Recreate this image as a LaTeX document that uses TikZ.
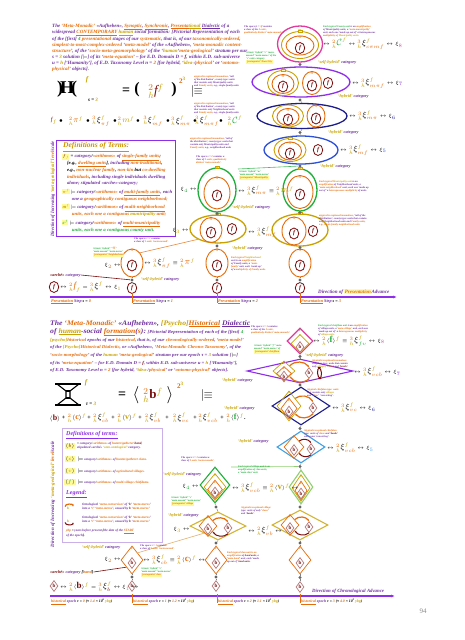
\documentclass[tikz,border=0pt]{standalone}
\usepackage{fontspec}
\setmainfont{Liberation Serif}
\usepackage{graphicx}
\usetikzlibrary{shapes.geometric,arrows.meta}
\setlength{\fboxsep}{0.6pt}
\definecolor{tpur}{HTML}{7030A0}
\definecolor{tvio}{HTML}{8E2EE8}
\definecolor{tor}{HTML}{E46C0A}
\definecolor{tgo}{HTML}{C9A200}
\definecolor{tgr}{HTML}{1FAE3A}
\definecolor{tre}{HTML}{7A0C0C}
\definecolor{tnv}{HTML}{1C1C8C}
\definecolor{tbl}{HTML}{2B4FD6}
\definecolor{tpk}{HTML}{E23BA0}
\definecolor{tlb}{HTML}{3FA0E6}
\definecolor{tlg}{HTML}{8FD06F}
\definecolor{ttan}{HTML}{E3B070}
\definecolor{tdef}{HTML}{B58CE0}
\newcommand{\cP}[1]{\textcolor{tpur}{#1}}
\newcommand{\cO}[1]{\textcolor{tor}{#1}}
\newcommand{\cY}[1]{\textcolor{tgo}{#1}}
\newcommand{\cG}[1]{\textcolor{tgr}{#1}}
\newcommand{\cR}[1]{\textcolor{tre}{#1}}
\newcommand{\cK}[1]{\textcolor{tpk}{#1}}
\newcommand{\fsz}[2]{\fontsize{#1}{#2}\selectfont}
\newcommand{\Pre}[1]{{}^{\textcolor{tor}{#1}}_{\textcolor{tgo}{h}}}
\newcommand{\Fs}{^{\textcolor{tgo}{f}}}
\newcommand{\bsym}[2]{\mbox{\fsz{#1}{#1}$#2$}}
\newcommand{\fel}[3]{\node[el,draw=tre,line width=0.8pt,minimum width=9.5pt,minimum height=11pt,flet] (#1) at (#2,#3) {f};}
\newcommand{\pel}[5]{\node[el,draw=tor,minimum width=#4,minimum height=#5] (#1) at (#2,#3) {};\node[lab,text=tor,anchor=north] (#1p) at ([yshift=-0.5pt]#1.north) {$\pi$};\fel{#1f}{#2}{#3+2.5}}
\newcommand{\mlab}[1]{\node[lab,text=tgo,fill=yellow!35,draw=tgo,line width=0.3pt,inner sep=0.4pt] (#1m) at (#1.north) {m};}
\newcommand{\bdm}[3]{\node[dm,draw=tre!55,minimum width=8pt,minimum height=11pt,font=\fsz{5}{5}\bfseries,text=tre] (#1) at (#2,#3) {b};}
\newcommand{\cdm}[5]{\node[dm,draw=tor,minimum width=#4,minimum height=#5] (#1) at (#2,#3) {};\node[lab,text=tor,anchor=north] (#1c) at ([yshift=-1.2pt]#1.north) {c};\bdm{#1b}{#2}{#3+3}}
\newcommand{\vdm}[5]{\node[dm,draw=tgo,minimum width=#4,minimum height=#5] (#1) at (#2,#3) {};\node[lab,text=tgo,anchor=north] (#1v) at ([yshift=-1pt]#1.north) {v};\cdm{#1o}{#2}{#3+2.5}{0.68*#4}{0.7*#5}}
\begin{document}
\begin{tikzpicture}[x=1pt,y=-1pt,
 el/.style={ellipse,draw,inner sep=0pt,line width=0.9pt},
 oel/.style={ellipse,draw,inner sep=0pt,line width=1.3pt},
 dm/.style={diamond,draw,inner sep=0pt,line width=0.7pt},
 odm/.style={diamond,draw,inner sep=0pt,line width=1.1pt},
 dotn/.style={circle,fill=black!60,inner sep=0pt,minimum size=3.4pt},
 conn/.style={draw=black!50,line width=0.45pt},
 tx/.style={inner sep=0pt,align=left,font=\fsz{2.6}{3.2}\bfseries\itshape},
 catl/.style={inner sep=0pt,font=\fsz{4.3}{5}\bfseries\itshape},
 fml/.style={inner sep=0pt,font=\fsz{5}{6}\bfseries},
 flet/.style={font=\fsz{6}{6}\bfseries\itshape,text=tre},
 lab/.style={inner sep=0.3pt,font=\fsz{3.8}{4}\bfseries},
 axl/.style={inner sep=0pt,font=\fsz{4.2}{5}\bfseries\itshape,anchor=north west},
 arcO/.style={tor,line width=1.2pt,-{Stealth[length=2.2pt]}},
 arcR/.style={tre,line width=1pt,-{Stealth[length=2pt]}}]
\path[use as bounding box,fill=white] (0,0) rectangle (465,640);

%================ TOP PANEL =================
\node[anchor=north west,inner sep=0pt] (ttl1) at (52,23) {\resizebox*{195pt}{49pt}{\fsz{8}{10}\bfseries\itshape\begin{tabular}{@{}l@{}}
\cP{The} \cO{`Meta-Monadic'} \cP{«Aufheben»,} \cO{\underline{Synoptic}}\cP{,} \cO{\underline{Synchronic}}\cP{,} \cO{\underline{Presenta}}\cY{\underline{tional}} \cP{\underline{Dialectic} of a}\\
\cP{widespread} \cO{\underline{CONTEMPORARY}} \cY{\underline{human}} \cP{social formation:} \cP{[Pictorial Representation of each}\\
\cP{of the [first]} \cG{4} \cO{presentational} \cP{stages of our} \cO{systematic}\cP{, that is, of our} \cO{taxonomically-ordered}\cP{,}\\
\cO{simplest-to-most-complex-ordered} \cP{`}\cO{meta-model}\cP{' of the «Aufheben», `}\cO{meta-monadic content-}\\
\cO{structure}\cP{', of the `}\cO{socio-meta-geomorphology}\cP{' of the `}\cY{human}\cP{ `}\cO{meta-geological}\cP{' stratum per our}\\
\cP{s =} \cY{3} \cP{solution [}$\models$\cP{] of its `}\cO{meta-equation}\cP{' -- for E.D.} \cP{Domain D =} \cR{f}\cP{, within E.D. sub-universe}\\
\cP{u =} \cY{h} \cP{[`Humanity'], of E.D. Taxonomy Level n =} \cO{2} \cP{[for hybrid, `}\cY{idea-}\cP{/}\cO{physical}\cP{' or `}\cO{ontomo-}\\
\cO{physical}\cP{' objects].}
\end{tabular}}};

% equation
\node[inner sep=0pt,font=\fsz{18}{18}\bfseries] (Hsym) at (67,89) {)\kern-3pt H\kern-3pt(};
\node[inner sep=0pt,font=\fsz{7}{7}\bfseries\itshape,text=tgo] (Hf) at (87,80) {f};
\node[inner sep=0pt,font=\fsz{5}{5}\bfseries\itshape] (Hsub) at (93,100) {s = \cY{3}};
\node[inner sep=0pt,font=\fsz{14}{14}\bfseries] (Heq) at (126,91) {=};
\node[inner sep=0pt,font=\fsz{16}{16}\bfseries] (Hlp) at (137,90) {(};
\node[inner sep=0pt,font=\fsz{13}{13}] (Hin) at (156,91) {$\Pre{2}\textcolor{tre}{\mathit{f}}\Fs$};
\node[inner sep=0pt,font=\fsz{16}{16}\bfseries] (Hrp) at (174,90) {)};
\node[inner sep=0pt,font=\fsz{7}{7}\bfseries] (Hexp) at (182,80) {\cO{2}\raisebox{3pt}{\fsz{5}{5}\cY{3}}};
\node[inner sep=0pt,font=\fsz{12}{12}] (Hent) at (197,91) {$|\!\!\equiv$};

% row of terms
\begin{scope}[every node/.style={inner sep=0pt,font=\fsz{6}{6}\bfseries}]
\node (r0) at (54,121) {$\textcolor{tre}{\mathit f}_{\textcolor{tgo}{f}}$};
\node (rb1) at (61,121) {$\bullet$};
\node (r1) at (76,121) {$\Pre{2}\bsym{8}{\textcolor{tor}{\pi}}\Fs$};
\node (rb2) at (88,121) {$\bullet$};
\node (r2) at (101,121) {$\Pre{3}\bsym{8}{\xi}\Fs_{\textcolor{tor}{\pi f}}$};
\node (rb3) at (115,121) {$\bullet$};
\node (r3) at (126,121) {$\Pre{2}\bsym{8}{\textcolor{tgo}{m}}\Fs$};
\node (rb4) at (138,121) {$\bullet$};
\node (r4) at (153,121) {$\Pre{3}\bsym{8}{\xi}\Fs_{\textcolor{tor}{mf}}$};
\node (rb5) at (168,121) {$\bullet$};
\node (r5) at (181,121) {$\Pre{3}\bsym{8}{\xi}\Fs_{\textcolor{tor}{m\pi}}$};
\node (rb6) at (195,121) {$\bullet$};
\node (r6) at (207,121) {$\Pre{3}\bsym{8}{\xi}\Fs_{\textcolor{tor}{m\pi f}}$};
\node (rb7) at (221,121) {$\bullet$};
\node (r7) at (235,121) {$\Pre{2}\bsym{9}{\textcolor{tgr}{\mathcal{C}}}\Fs$};
\end{scope}

% definitions box
\node[draw=tvio,line width=0.8pt,minimum width=119pt,minimum height=96pt,anchor=north west,inner sep=0pt] (defA) at (56,140) {};
\node[anchor=west,inner sep=0pt,font=\fsz{7.5}{8}\bfseries\itshape,text=tgo!75!tor] (defAt) at (63,147) {\underline{Definitions of Terms:}};
\node[anchor=north west,inner sep=0pt] (defAi) at (62,153) {\resizebox*{110pt}{80pt}{\fsz{7}{10}\bfseries\itshape\begin{tabular}{@{}l@{}}
\colorbox{yellow!40}{$\textcolor{tre}{f}_{\textcolor{tgo}{f}}$} = \cP{category}/\cO{«arithmos»} \cP{of} \cO{\underline{single-family units}};\\
\quad [e.g., \cO{\underline{dwelling units}}], \cP{including} \cO{non-traditional},\\
\quad e.g., \cO{non-nuclear family}, \cO{non-kin} but \cO{co-dwelling}\\
\quad \cO{individuals}, \cP{including single individuals dwelling}\\
\quad \cP{alone; stipulated «arche»-category;}\\[3pt]
\colorbox{yellow!40}{\cO{$\pi$}\cY{$^f$}} $\models$ \cP{category}/\cO{«arithmos»} \cP{of} \cO{\underline{multi-family units}}\cP{, each}\\
\qquad \cP{one a} \cO{geographically contiguous neighborhood;}\\[3pt]
\colorbox{yellow!40}{\cY{m$^f$}} $\models$ \cP{category}/\cO{«arithmos»} \cP{of} \cO{\underline{multi-neighborhood}}\\
\qquad \cO{units, each one a contiguous} \cY{municipality} \cO{unit;}\\[3pt]
\colorbox{yellow!40}{\cG{c$^f$}} $\models$ \cP{category}/\cO{«arithmos»} \cP{of} \cO{\underline{multi-municipality}}\\
\qquad \cG{units, each one a contiguous county unit.}
\end{tabular}}};

% vertical text
\node[rotate=90,inner sep=0pt] (vt1) at (53,189) {\resizebox*{95pt}{4.5pt}{\bfseries\itshape \cP{Direction of Increasing} \cY{`meta-geological'} \cO{level}\cP{/scale}}};

% ---- column s=3 stack
\node[oel,draw=tpk,minimum width=45pt,minimum height=36pt] (E1) at (300,44) {};
\node[el,draw=tgo,minimum width=37pt,minimum height=27pt] (E1g) at (300,45) {};
\pel{E1o}{300}{45.5}{28pt}{19pt}
\mlab{E1g}

\node[oel,draw=tvio,minimum width=98pt,minimum height=30pt] (E2) at (301,82) {};
\node[el,draw=tgo,minimum width=31pt,minimum height=25pt] (E2g) at (283,83) {};
\pel{E2o}{283}{84}{22pt}{19pt}
\mlab{E2g}
\pel{E2p}{312}{83}{19pt}{23pt}
\fel{E2f}{328}{83}

\node[oel,draw=tnv,minimum width=90pt,minimum height=25pt] (E3) at (302,116) {};
\node[el,draw=tgo,minimum width=31pt,minimum height=22pt] (E3g) at (288,116) {};
\pel{E3o}{288}{117}{22pt}{17pt}
\pel{E3p}{316}{116}{18pt}{22pt}

\node[oel,draw=tbl,minimum width=74pt,minimum height=28pt] (E4) at (301,150) {};
\node[el,draw=tgo,minimum width=32pt,minimum height=23pt] (E4g) at (290,150) {};
\pel{E4o}{290}{151}{23pt}{18pt}
\mlab{E4g}
\fel{E4f}{318}{150}

\node[oel,draw=tgr,minimum width=34pt,minimum height=42pt] (E5) at (300,190) {};
\pel{E5o}{300}{192}{26pt}{33pt}
\mlab{E5}

\node[oel,draw=tgo,minimum width=56pt,minimum height=32pt] (E6) at (300,230) {};
\pel{E6o}{294}{231}{24pt}{28pt}
\mlab{E6}
\fel{E6f}{313}{231}

\pel{E7}{300}{263}{22pt}{28pt}
\fel{E8}{300}{288}

\node[dotn] (tA) at (300,64.5) {};
\node[dotn] (tB) at (300,100) {};
\node[dotn] (tC) at (300,132.5) {};
\node[dotn] (tD) at (300,166) {};
\node[dotn] (tE) at (300,212.5) {};
\node[dotn] (tF) at (300,247.5) {};
\node[dotn] (tG) at (300,280) {};
\draw[conn] (E1.south) -- (tA) -- (E2.north);
\draw[conn] (E2.south) -- (tB) -- (E3.north);
\draw[conn] (E3.south) -- (tC) -- (E4.north);
\draw[conn] (E4.south) -- (tD) -- (E5.north);
\draw[conn] (E5.south) -- (tE) -- (E6.north);
\draw[conn] (E6.south) -- (tF) -- (E7.north);
\draw[conn] (E7.south) -- (tG) -- (E8.north);

% ---- column s=2
\node[oel,draw=tgr,minimum width=38pt,minimum height=44pt] (G2) at (217,190) {};
\pel{G2o}{217}{193}{26pt}{32pt}
\mlab{G2}
\node[oel,draw=tgo,minimum width=56pt,minimum height=28pt] (Y2) at (218,229) {};
\pel{Y2o}{211}{230}{22pt}{25pt}
\mlab{Y2}
\fel{Y2f}{232}{229}
\pel{O2}{217}{263}{22pt}{28pt}
\fel{F2}{217}{288}
\node[dotn] (sA) at (217,213.5) {};
\node[dotn] (sB) at (217,246) {};
\node[dotn] (sC) at (217,280) {};
\draw[conn] (G2.south) -- (sA) -- (Y2.north);
\draw[conn] (Y2.south) -- (sB) -- (O2.north);
\draw[conn] (O2.south) -- (sC) -- (F2.north);

% ---- column s=1
\pel{O1}{132}{263}{22pt}{28pt}
\fel{F1}{132}{288}
\node[dotn] (uA) at (132,280) {};
\draw[conn] (O1.south) -- (uA) -- (F1.north);

% ---- column s=0
\fel{F0}{54}{287}
\node[fml,anchor=west] (F0r) at (60,287) {$\leftrightarrow\Pre{2}\bsym{9}{\textcolor{tor}{\mathit f}}_{\textcolor{tgo}{f}}=\Pre{3}\bsym{8}{\xi}\Fs\leftrightarrow\xi_{\textcolor{tgo}{1}}$};
\node[catl,anchor=west] (arch1) at (50,275) {\cR{«arché»} \cP{category}};

% cross lines
\coordinate (gl1) at (238,169);
\draw[tgr!80,line width=0.6pt] (gl1) -- (tD);
\draw[tor!80,line width=0.6pt] (O1.north east) -- (Y2.south west);
\draw[tre,line width=0.6pt] (arch1.east) -- (uA);

% ---- formulas and labels, top
\node[fml,anchor=west] (E1r) at (323,44) {$\leftrightarrow\Pre{2}\bsym{9}{\textcolor{tgr}{\mathcal{C}}}\Fs\leftrightarrow\Pre{3}\bsym{8}{\xi}\Fs_{\textcolor{tor}{c\pi mf}}\leftrightarrow\xi_{\textcolor{tpk}{8}}$};
\node[fml,anchor=west] (E2r) at (352,83) {$\leftrightarrow\Pre{3}\bsym{8}{\xi}\Fs_{\textcolor{tor}{m\pi f}}\leftrightarrow\xi_{\textcolor{tvio}{7}}$};
\node[fml,anchor=west] (E3r) at (349,116) {$\leftrightarrow\Pre{3}\bsym{8}{\xi}\Fs_{\textcolor{tor}{m\pi}}\leftrightarrow\xi_{\textcolor{tnv}{6}}$};
\node[fml,anchor=west] (E4r) at (340,150) {$\leftrightarrow\Pre{3}\bsym{8}{\xi}\Fs_{\textcolor{tor}{mf}}\leftrightarrow\xi_{\textcolor{tbl}{5}}$};
\node[fml,anchor=west] (G2r) at (238,191) {$\leftrightarrow\Pre{3}\bsym{8}{\xi}\Fs_{\textcolor{tor}{m\pi}}\equiv\Pre{2}\bsym{9}{\textcolor{tgo}{m}}\Fs$};
\node[fml,anchor=east] (G2l) at (197,190) {$\xi_{\textcolor{tgr}{4}}\leftrightarrow$};
\node[fml,anchor=east] (Y2l) at (189,231) {$\xi_{\textcolor{tgo}{3}}\leftrightarrow$};
\node[fml,anchor=west] (Y2r) at (248,232) {$\leftrightarrow\Pre{3}\bsym{8}{\xi}\Fs_{\textcolor{tor}{mf}}$};
\node[fml,anchor=west] (O1r) at (144,263) {$\leftrightarrow\Pre{3}\bsym{8}{\xi}\Fs_{\textcolor{tor}{\pi f}}\equiv\Pre{2}\bsym{9}{\textcolor{tor}{\pi}}\Fs$};
\node[fml,anchor=east] (O1l) at (121,266) {$\xi_{\textcolor{tor}{2}}\leftrightarrow$};

\node[catl,anchor=west] (c1) at (318,62) {\cY{`self-hybrid'} \cP{category}};
\node[catl,anchor=west] (c2) at (338,96) {\cY{`hybrid'} \cP{category}};
\node[catl,anchor=west] (c3) at (328,132) {\cY{`hybrid'} \cP{category}};
\node[catl,anchor=west] (c4) at (320,166) {\cY{`hybrid'} \cP{category}};
\node[catl,anchor=west] (c5) at (232,207) {\cY{`self-hybrid'} \cP{category}};
\node[catl,anchor=west] (c6) at (232,248) {\cY{`hybrid'} \cP{category}};
\node[catl,anchor=west] (c7) at (141,279) {\cY{`self-hybrid'} \cP{category}};

\node[tx,anchor=north west] (a1) at (244,25) {\cP{The space [s =} \cO{3}\cP{] contains}\\\cP{a class of the} \cO{3 ontic,}\\\cO{qualitatively distinct `meta-monads'.}};
\node[tx,anchor=north west] (a2) at (323,25) {\cG{Each typical County unit} \cP{is an} \cO{amplification}\\\cP{of Municipality units, a} \cO{`meta-municipality'}\\\cP{unit, each one `made up out of' a heterogeneous}\\\cO{multiplicity of} \cY{Municipality units.}};
\node[tx,anchor=north west] (a3) at (246,51) {\cG{A basic `hybrid' `c' `meta-}\\\cG{monad' `meta-meros' of the}\\\cG{`c' ontic category}\\\colorbox{yellow!40}{\cO{`protagonist' Town/City}}};
\node[tx,anchor=north west] (a4) at (194,75) {\cO{atypical/exceptional/anomalous}\cP{, `tail}\\\cP{of the distribution', county type: units}\\\cP{that contain only Municipality units}\\\cP{and} \cO{Family units}\cP{, e.g., single-family units}};
\node[tx,anchor=north west] (a5) at (194,102) {\cO{atypical/exceptional/anomalous}\cP{, `tail}\\\cP{of the distribution', county type: units}\\\cP{that contain only Neighborhood units}\\\cP{and} \cO{Family units}\cP{, e.g., single-family units}};
\node[tx,anchor=north west] (a6) at (190,137) {\cO{atypical/exceptional/anomalous}\cP{, `tail of}\\\cP{the distribution', county type: units that}\\\cP{contain only Municipality units and}\\\cO{Family units}\cP{, e.g., neighborhood units}};
\node[tx,anchor=north west] (a7) at (196,155) {\cP{The space s =} \cO{2} \cP{contains a}\\\cP{class of} \cO{2 ontic, qualitatively}\\\cO{distinct `meta-monads'.}};
\node[tx,anchor=north west] (a8) at (239,170) {\cG{A basic `hybrid' `m'}\\\cG{`meta-monad' `meta-meros'}\\\colorbox{yellow!40}{\cO{`protagonist' Municipality}}};
\node[tx,anchor=north west] (a9) at (319,180) {\cO{Each typical} \cY{Municipality unit} \cP{is an}\\\cO{amplification} \cP{of Neighborhood units, a}\\\cO{`meta-neighborhood'} \cP{unit, each one `made up}\\\cP{out of' a} \cO{heterogeneous multiplicity} \cP{of units.}};
\node[tx,anchor=north west] (a10) at (319,214) {\cO{atypical/exceptional/anomalous}\cP{, `tail of the}\\\cP{distribution', county type: units that contain}\\\cP{only Neighborhood units and} \cO{Family units}\cP{,}\\\cO{e.g., single-family neighborhood units}};
\node[tx,anchor=north west] (a11) at (231,256) {\cO{Each typical} \cY{Neighborhood}\\\cP{unit is an} \cO{amplification}\\\cP{of Family units, a} \cO{`meta-}\\\cO{family'} \cP{unit, each `made up'}\\\cP{of a} \cO{multiplicity of Family units.}};
\node[tx,anchor=north west] (a12) at (134,237) {\cP{The space s =} \cO{1} \cP{contains}\\\cP{a class of} \cO{1 ontic `meta-monad'.}};
\node[tx,anchor=north west] (a13) at (93,247) {\cG{A basic `hybrid' `}\cO{$\pi$}\cG{'}\\\cG{`meta-monad' `meta-meros'}\\\colorbox{yellow!40}{\cO{`protagonist' Neighborhood}}};

% top axis
\coordinate (axA0) at (50,297);
\coordinate (axA1) at (397,297);
\draw[tvio,line width=1.2pt,-{Latex[length=4pt,width=3pt]}] (axA0) -- (axA1);
\draw[tor,line width=0.8pt] (132,293) -- (132,303);
\draw[tor,line width=0.8pt] (217,293) -- (217,303);
\draw[tor,line width=0.8pt] (300,293) -- (300,303);
\node[axl] (ps0) at (51,299) {\cO{\underline{Presentation}} \cP{Step} s = \cO{0}};
\node[axl] (ps1) at (133,299) {\cO{\underline{Presentation}} \cP{Step} s = \cO{1}};
\node[axl] (ps2) at (218,299) {\cO{\underline{Presentation}} \cP{Step} s = \cO{2}};
\node[axl] (ps3) at (301,299) {\cO{\underline{Presentation}} \cP{Step} s = \cO{3}};
\node[inner sep=0pt,anchor=west,font=\fsz{5}{6}\bfseries\itshape] (dirA) at (318,291.5) {\cP{Direction of} \colorbox{yellow!30}{\cO{Presentation}}\cP{ Advance}};

%================ BOTTOM PANEL =================
\node[anchor=north west,inner sep=0pt] (ttl2) at (50,320) {\resizebox*{200pt}{54pt}{\fsz{7}{12}\bfseries\itshape\begin{tabular}{@{}l@{}}
{\fsz{11}{13}\cP{The} \cO{`Meta-Monadic'} \cP{«Aufheben»,} \cY{[Psycho]}\cO{\underline{Historical}} \cP{\underline{Dialectic}}}\\
{\fsz{11}{13}\cP{of} \cY{\underline{human}}\cP{-social} \cO{\underline{formation}}\cP{(}\cO{s}\cP{):}} \cP{[Pictorial Representation of each of the [first]} \cG{4}\\
\cY{[psycho]}\cO{historical} \cP{epochs of our} \cO{historical}\cP{, that is, of our} \cO{chronologically-ordered}\cP{, `}\cO{meta-model}\cP{'}\\
\cP{of the} \cY{[Psycho]}\cO{Historical Dialectic}\cP{, or «Aufheben», `}\cO{Meta-Monadic Chrono-Taxonomy}\cP{', of the}\\
\cP{`}\cO{socio-morphology}\cP{' of the} \cY{human} \cP{`}\cO{meta-geological}\cP{' stratum per our epoch τ =} \cY{3} \cP{solution [}$\models$\cP{]}\\
\cP{of its `}\cO{meta-equation}\cP{' -- for E.D. Domain D =} \cR{f}\cP{, within E.D. sub-universe u =} \cY{h} \cP{[`Humanity'],}\\
\cP{of E.D. Taxonomy Level n =} \cO{2} \cP{[for hybrid, `}\cY{idea-}\cP{/}\cO{physical}\cP{' or `}\cO{ontomo-physical}\cP{' objects].}
\end{tabular}}};

% hourglass equation
\draw[line width=1.2pt] (55,384) -- (81,384);
\draw[line width=1.2pt] (55,405) -- (81,405);
\draw[line width=1.1pt] (57,384) -- (66,391) -- (66,398) -- (57,405);
\draw[line width=1.1pt] (79,384) -- (70,391) -- (70,398) -- (79,405);
\draw[line width=1.1pt] (66,391) -- (70,391);
\draw[line width=1.1pt] (66,398) -- (70,398);
\node[inner sep=0pt,font=\fsz{7}{7}\bfseries\itshape,text=tgo] (Bf) at (86,383) {f};
\node[inner sep=0pt,font=\fsz{5}{5}\bfseries\itshape] (Bsub) at (91,404) {τ = \cY{3}};
\node[inner sep=0pt,font=\fsz{14}{14}\bfseries] (Beq) at (122,395) {=};
\node[inner sep=0pt,font=\fsz{18}{18}] (Blp) at (136,395) {$\langle$};
\node[inner sep=0pt,font=\fsz{13}{13}] (Bin) at (153,395) {$\Pre{2}\textcolor{tre}{\mathbf{b}}\Fs$};
\node[inner sep=0pt,font=\fsz{18}{18}] (Brp) at (170,395) {$\rangle$};
\node[inner sep=0pt,font=\fsz{7}{7}\bfseries] (Bexp) at (180,385) {\cO{2}\raisebox{3pt}{\fsz{5}{5}\cY{3}}};
\node[inner sep=0pt,font=\fsz{12}{12}] (Bent) at (207,395) {$|\!\!\equiv$};

\begin{scope}[every node/.style={inner sep=0pt,font=\fsz{6}{6}\bfseries}]
\node (q0) at (55,418) {$\langle\bsym{8}{\textcolor{tre}{\mathbf b}}\rangle$};
\node (qp1) at (63.5,418) {+};
\node (q1) at (77,418) {$\Pre{2}\langle\bsym{8}{\textcolor{tor}{\mathbf c}}\rangle\Fs$};
\node (qp2) at (89,418) {+};
\node (q2) at (101,418) {$\Pre{2}\bsym{8}{\xi}\Fs_{\textcolor{tor}{cb}}$};
\node (qp3) at (113,418) {+};
\node (q3) at (127,418) {$\Pre{2}\langle\bsym{8}{\textcolor{tgo}{\mathbf v}}\rangle\Fs$};
\node (qp4) at (140,418) {+};
\node (q4) at (153,418) {$\Pre{2}\bsym{8}{\xi}\Fs_{\textcolor{tor}{vb}}$};
\node (qp5) at (167,418) {+};
\node (q5) at (181,418) {$\Pre{2}\bsym{8}{\xi}\Fs_{\textcolor{tor}{vc}}$};
\node (qp6) at (195,418) {+};
\node (q6) at (208,418) {$\Pre{2}\bsym{8}{\xi}\Fs_{\textcolor{tor}{vcb}}$};
\node (qp7) at (222,418) {+};
\node (q7) at (236,418) {$\Pre{2}\langle\bsym{8}{\textcolor{tgr}{\mathbf f}}\rangle\Fs$.};
\end{scope}

% definitions bottom
\node[draw=tdef!70,line width=0.6pt,minimum width=100pt,minimum height=114pt,anchor=north west,inner sep=0pt] (defB) at (62,428) {};
\node[anchor=west,inner sep=0pt,font=\fsz{6}{7}\bfseries\itshape,text=tvio] (defBt) at (66,435) {\underline{Definitions of terms:}};
\begin{scope}[every node/.style={inner sep=0pt,font=\fsz{3.3}{4.2}\bfseries\itshape,align=left}]
\node (dB1) at (70,446) {\colorbox{yellow!40}{$\langle\textcolor{tre}{b}\rangle$}};
\node[anchor=west] (dB1t) at (77,446) {= \cP{category}/\cO{«arithmos»} \cP{of} \cO{hunter/gatherer} \cR{band}\cP{,}\\\cP{stipulated «arché»} \cY{`onto-ontological'} \cP{category.}};
\node (dB2) at (70,459) {\colorbox{yellow!40}{$\langle\textcolor{tor}{c}\rangle$}};
\node[anchor=west] (dB2t) at (77,459) {$\models$ \cP{category}/\cO{«arithmos»} \cP{of} \cO{hunter/gatherer clans.}};
\node (dB3) at (70,471) {\colorbox{yellow!40}{$\langle\textcolor{tgo}{v}\rangle$}};
\node[anchor=west] (dB3t) at (77,471) {$\models$ \cP{category}/\cO{«arithmos»} \cP{of} \cO{agricultural villages.}};
\node (dB4) at (70,482) {\colorbox{yellow!40}{$\langle\textcolor{tgr}{f}\rangle$}};
\node[anchor=west] (dB4t) at (77,482) {$\models$ \cP{category}/\cO{«arithmos»} \cP{of} \cO{multi-village chiefdoms.}};
\node[anchor=north west] (lg1t) at (82,503) {\cP{Ontological} \cO{`meta-conversion'} \cP{of `}\cR{b}\cP{' `}\cO{meta-meros}\cP{'}\\\cP{into a `}\cO{c}\cP{' `}\cO{meta-meros}\cP{', caused by} \cR{b} \cP{`}\cO{meta-meros}\cP{'}};
\node[anchor=north west] (lg2t) at (82,516) {\cP{Ontological} \cO{`meta-conversion'} \cP{of `}\cR{b}\cP{' `}\cO{meta-meros}\cP{'}\\\cP{into a `}\cO{c}\cP{' `}\cO{meta-meros}\cP{', caused by} \cR{b} \cP{`}\cO{meta-meros}\cP{'}};
\node[anchor=north west] (ybp) at (66,529) {\cO{ybp} = \cP{years before present} [\cP{the date of the} \cO{\underline{START}}\\\cP{of the epoch}].};
\end{scope}
\node[anchor=west,inner sep=0pt,font=\fsz{6}{7}\bfseries\itshape,text=tvio] (lgt) at (66,494) {\underline{Legend:}};
\node[inner sep=0pt,font=\fsz{3.5}{4}\bfseries,text=tgo] (lgb1) at (68,508) {b};
\node[inner sep=0pt,font=\fsz{3.5}{4}\bfseries,text=tgo] (lgb2) at (68,521) {b};
\draw[arcO] ([xshift=-3pt]lgb1.north) to[bend left=90] ([xshift=5pt]lgb1.north);
\draw[arcR] ([xshift=-3pt]lgb2.south) to[bend right=90] ([xshift=5pt]lgb2.south);

\node[rotate=90,inner sep=0pt] (vt2) at (53,494) {\resizebox*{106pt}{4.5pt}{\bfseries\itshape \cP{Direction of Increasing} \cY{`meta-geological'} \cO{level}\cP{/scale}}};

% ---- column tau=3 diamonds
\node[odm,draw=tpk,minimum width=26pt,minimum height=26pt] (D1) at (300,341) {};
\node[dm,draw=tgo,minimum width=18pt,minimum height=18pt] (D1g) at (300,343.5) {};
\node[lab,text=tgr,anchor=north] (D1l) at ([yshift=-1pt]D1.north) {f};
\node[lab,text=tgo,anchor=north] (D1v) at ([yshift=-0.5pt]D1g.north) {v};
\bdm{D1b}{300}{347}

\node[odm,draw=tvio,minimum width=106pt,minimum height=24pt] (D2) at (300,371) {};
\vdm{D2v}{284}{371}{22pt}{20pt}
\bdm{D2b}{309}{373}
\draw[arcO] (D2v.north east) to[bend left=50] (D2b.north);
\draw[arcO] (D2b.south) to[bend left=50] (D2v.south east);
\draw[arcR] ([xshift=9pt]D2b.north) to[bend left=80] ([xshift=9pt]D2b.south);
\draw[arcR] ([xshift=12pt]D2b.south) to[bend left=80] ([xshift=12pt]D2b.north);

\node[odm,draw=tnv,minimum width=58pt,minimum height=38pt] (D3) at (301,406) {};
\vdm{D3v}{289}{406}{24pt}{30pt}
\bdm{D3b}{313}{408}
\draw[arcO] (D3v.north east) to[bend left=50] (D3b.north);
\draw[arcO] (D3b.south) to[bend left=50] (D3v.south east);

\node[odm,draw=tlb,minimum width=48pt,minimum height=32pt] (D4) at (301,447) {};
\cdm{D4c}{294}{447}{20pt}{23pt}
\bdm{D4b}{311}{449}
\draw[arcR] (D4c.north east) to[bend left=50] (D4b.north);
\draw[arcR] (D4b.south) to[bend left=50] (D4c.south east);

\node[odm,draw=tlg,minimum width=24pt,minimum height=34pt] (D5) at (301,487) {};
\vdm{D5v}{301}{488}{18pt}{27pt}

\node[odm,draw=tgo!80,minimum width=56pt,minimum height=30pt] (D6) at (300,525) {};
\cdm{D6c}{290}{525}{18pt}{21pt}
\bdm{D6b}{309}{527}
\draw[arcO] (D6c.north east) to[bend left=50] (D6b.north);
\draw[arcR] (D6b.south) to[bend left=50] (D6c.south east);

\cdm{D7}{300}{560}{22pt}{28pt}
\bdm{D8}{300}{587}

\node[dotn] (bA) at (300,356.5) {};
\node[dotn] (bB) at (300,385) {};
\node[dotn] (bC) at (300,428.5) {};
\node[dotn] (bD) at (300,466.5) {};
\node[dotn] (bE) at (300,507) {};
\node[dotn] (bF) at (300,543) {};
\node[dotn] (bG) at (300,577.5) {};
\draw[conn] (D1.south) -- (bA) -- (D2.north);
\draw[conn] (D2.south) -- (bB) -- (D3.north);
\draw[conn] (D3.south) -- (bC) -- (D4.north);
\draw[conn] (D4.south) -- (bD) -- (D5.north);
\draw[conn] (D5.south) -- (bE) -- (D6.north);
\draw[conn] (D6.south) -- (bF) -- (D7.north);
\draw[conn] (D7.south) -- (bG) -- (D8.north);

% ---- column tau=2
\node[odm,draw=tgr,minimum width=30pt,minimum height=36pt] (G2b) at (215,485) {};
\vdm{G2bv}{215}{487}{22pt}{27pt}
\node[odm,draw=tgo!80,minimum width=56pt,minimum height=28pt] (Y2b) at (218,526) {};
\cdm{Y2bc}{208}{526}{18pt}{21pt}
\bdm{Y2bb}{228}{528}
\draw[arcO] (Y2bc.north east) to[bend left=50] (Y2bb.north);
\draw[arcR] (Y2bb.south) to[bend left=50] (Y2bc.south east);
\cdm{O2b}{216}{560}{22pt}{28pt}
\bdm{B2}{216}{586}
\node[dotn] (vA) at (216,507) {};
\node[dotn] (vB) at (216,543) {};
\node[dotn] (vC) at (216,577) {};
\draw[conn] (G2b.south) -- (vA) -- (Y2b.north);
\draw[conn] (Y2b.south) -- (vB) -- (O2b.north);
\draw[conn] (O2b.south) -- (vC) -- (B2.north);

% ---- column tau=1
\cdm{O1b}{132}{560}{22pt}{28pt}
\bdm{B1}{132}{586}
\node[dotn] (wA) at (132,577) {};
\draw[conn] (O1b.south) -- (wA) -- (B1.north);

% ---- column tau=0
\bdm{B0}{54}{586}
\node[fml,anchor=west] (B0r) at (60,587) {$\leftrightarrow\Pre{2}\langle\bsym{9}{\textcolor{tre}{\mathbf b}}\rangle\Fs=\Pre{3}\bsym{8}{\xi}\Fs_{\textcolor{tre}{b}}\leftrightarrow\xi_{\textcolor{tgo}{1}}\leftrightarrow$};
\node[catl,anchor=west] (arch2) at (50,572) {\cR{«arché»} \cP{category} [\cO{band}]};

% cross lines bottom
\coordinate (gl2) at (231,467);
\draw[tlg,line width=0.6pt] (gl2) -- (bD);
\draw[ttan,line width=0.6pt] (O1b.north east) -- (Y2b.south west);
\draw[tre,line width=0.6pt] (arch2.east) -- (O1b.south west);

% formulas bottom
\node[fml,anchor=west] (D1r) at (313,341) {$\leftrightarrow\Pre{2}\langle\bsym{9}{\textcolor{tgr}{\mathbf f}}\rangle\Fs\equiv\Pre{3}\bsym{8}{\xi}\Fs_{\textcolor{tgr}{fv}}\leftrightarrow\xi_{\textcolor{tpk}{8}}$};
\node[fml,anchor=west] (D2r) at (354,372) {$\leftrightarrow\Pre{3}\bsym{8}{\xi}\Fs_{\textcolor{tor}{vcb}}\leftrightarrow\xi_{\textcolor{tvio}{7}}$};
\node[fml,anchor=west] (D3r) at (332,408) {$\leftrightarrow\Pre{3}\bsym{8}{\xi}\Fs_{\textcolor{tor}{vc}}\leftrightarrow\xi_{\textcolor{tnv}{6}}$};
\node[fml,anchor=west] (D4r) at (327,448) {$\leftrightarrow\Pre{2}\bsym{8}{\xi}\Fs_{\textcolor{tor}{vcb}}\leftrightarrow\xi_{\textcolor{tlb}{5}}$};
\node[fml,anchor=west] (G2br) at (232,488) {$\leftrightarrow\Pre{3}\bsym{8}{\xi}\Fs_{\textcolor{tor}{vcb}}\equiv\Pre{2}\langle\bsym{9}{\textcolor{tgo}{\mathbf v}}\rangle\Fs\leftrightarrow$};
\node[fml,anchor=east] (G2bl) at (199,487) {$\xi_{\textcolor{tgr}{4}}\leftrightarrow$};
\node[fml,anchor=east] (Y2bl) at (190,530) {$\xi_{\textcolor{tgo}{3}}\leftrightarrow$};
\node[fml,anchor=west] (Y2br) at (248,531) {$\leftrightarrow\Pre{2}\bsym{8}{\xi}\Fs_{\textcolor{tor}{vb}}\leftrightarrow$};
\node[fml,anchor=west] (O1br) at (143,560) {$\leftrightarrow\Pre{3}\bsym{8}{\xi}\Fs_{\textcolor{tor}{cb}}\equiv\Pre{2}\langle\bsym{9}{\textcolor{tor}{\mathbf c}}\rangle\Fs\leftrightarrow$};
\node[fml,anchor=east] (O1bl) at (121,560) {$\xi_{\textcolor{tor}{2}}\leftrightarrow$};

\node[catl,anchor=west] (k1) at (305,355) {\cY{`self-hybrid'} \cP{category}};
\node[catl,anchor=west] (k2) at (222,380) {\cY{`hybrid'} \cP{category}};
\node[catl,anchor=west] (k3) at (224,408) {\cY{`hybrid'} \cP{category}};
\node[catl,anchor=west] (k4) at (238,441) {\cY{`hybrid'} \cP{category}};
\node[catl,anchor=west] (k5) at (163,474) {\cY{`self-hybrid'} \cP{category}};
\node[catl,anchor=west] (k6) at (168,515) {\cY{`hybrid'} \cP{category}};
\node[catl,anchor=west] (k7) at (82,547) {\cY{`self-hybrid'} \cP{category}};

\node[tx,anchor=north west] (b1) at (251,325) {\cP{The space τ =} \cO{3} \cP{contains}\\\cP{a class of the} \cO{3 ontic,}\\\cO{qualitatively distinct `meta-monads'.}};
\node[tx,anchor=north west] (b2) at (318,324) {\cG{Each typical chiefdom unit} \cP{is an} \cO{amplification}\\\cP{of village units, a} \cO{`meta-village'} \cP{unit, each one}\\\cP{`made up out of' a} \cO{heterogeneous multiplicity}\\\cP{of} \cY{village units.}};
\node[tx,anchor=north west] (b3) at (254,344) {\cG{A basic `hybrid' `f' `meta-}\\\cG{monad' `meta-meros' of}\\\colorbox{yellow!40}{\cO{`protagonist' chiefdom}}};
\node[tx,anchor=north west] (b4) at (312,359) {\cO{Atypical/exceptional/anomalous}\\\cP{chiefdom type: units that contain}\\\cP{only} \cY{villages}\cP{, `}\cO{clans}\cP{' and `}\cR{bands}\cP{'.}};
\node[tx,anchor=north west] (b5) at (307,388) {\cO{Atypical chiefdom type: units}\\\cP{that contain only} \cY{villages}\\\cP{and `}\cO{clans}\cP{' `converting'.}};
\node[tx,anchor=north west] (b6) at (304,429) {\cO{Atypical/exceptional chiefdom}\\\cP{type: units of} \cO{clans} \cP{and `}\cR{bands}\cP{'}\\\cP{with some `converting'.}};
\node[tx,anchor=north west] (b7) at (238,465) {\cG{Each typical village unit is an}\\\cG{amplification of clan units,}\\\cG{a `meta-clan' unit.}};
\node[tx,anchor=north west] (b8) at (241,506) {\cO{Atypical/exceptional village}\\\cP{type: units of only `}\cO{clans}\cP{'}\\\cP{and `}\cR{bands}\cP{'.}};
\node[tx,anchor=north west] (b9) at (227,551) {\cO{Each typical clan unit is an}\\\cO{amplification} \cP{of} \cR{band units}\cP{, a}\\\cP{`}\cO{meta-band}\cP{' unit, each `made}\\\cP{up out of'} \cR{band units.}};
\node[tx,anchor=north west] (b10) at (181,456) {\cP{The space τ =} \cO{2} \cP{contains a}\\\cP{class of} \cO{2 ontic `meta-monads'.}};
\node[tx,anchor=north west] (b11) at (171,496) {\cG{A basic `hybrid' `v'}\\\cG{`meta-monad' `meta-meros'}\\\colorbox{yellow!40}{\cO{`protagonist' village}}};
\node[tx,anchor=north west] (b12) at (140,544) {\cP{The space τ =} \cO{1} \cP{contains}\\\cP{a class of} \cO{1 ontic `meta-monad'.}};
\node[tx,anchor=north west] (b13) at (141,567) {\cG{A basic `hybrid' `c'}\\\cG{`meta-monad' `meta-meros'}\\\colorbox{yellow!40}{\cO{`protagonist' clan}}};

% bottom axis
\coordinate (axB0) at (50,596);
\coordinate (axB1) at (395,596);
\draw[tvio,line width=1.2pt,-{Latex[length=4pt,width=3pt]}] (axB0) -- (axB1);
\draw[tor,line width=0.8pt] (132,594) -- (132,603);
\draw[tor,line width=0.8pt] (217,594) -- (217,603);
\draw[tor,line width=0.8pt] (300,594) -- (300,603);
\begin{scope}[every node/.style={axl,font=\fsz{3.8}{4.5}\bfseries\itshape}]
\node (he0) at (51,598.5) {\cO{\underline{historical}} \cP{epoch} τ = \cO{0} (≈ \cO{1.4} × 10\textsuperscript{6} \cY{ybp})};
\node (he1) at (133,598.5) {\cO{\underline{historical}} \cP{epoch} τ = \cO{1} (≈ \cO{1.2} × 10\textsuperscript{4} \cY{ybp})};
\node (he2) at (218,598.5) {\cO{\underline{historical}} \cP{epoch} τ = \cO{2} (≈ \cO{1.1} × 10\textsuperscript{4} \cY{ybp})};
\node (he3) at (301,598.5) {\cO{\underline{historical}} \cP{epoch} τ = \cO{3} (≈ \cO{4.0} × 10\textsuperscript{3} \cY{ybp})};
\end{scope}
\node[inner sep=0pt,anchor=west,font=\fsz{4.8}{6}\bfseries\itshape] (dirB) at (312,591) {\cP{Direction of Chronological Advance}};

\node[inner sep=0pt,font=\fsz{7}{8},text=black!45] (pg) at (423,611) {94};
\end{tikzpicture}
\end{document}
